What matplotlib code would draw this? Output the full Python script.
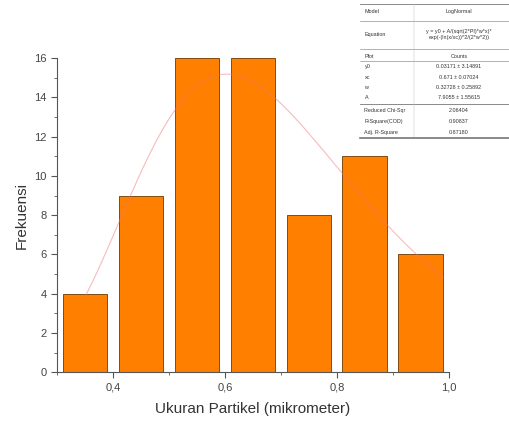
import matplotlib.pyplot as plt
import numpy as np
from matplotlib.ticker import MultipleLocator, FuncFormatter

plt.rcParams['font.family'] = ['Liberation Sans', 'DejaVu Sans']

# histogram of particle size
bin_centers = [0.35, 0.45, 0.55, 0.65, 0.75, 0.85, 0.95]
counts = [4, 9, 16, 16, 8, 11, 6]
bar_width = 0.08

# LogNormal fit parameters
y0 = 0.03171
xc = 0.671
w = 0.32728
A = 7.9055

table_rows = [
    ("Model", "LogNormal"),
    ("Equation", "y = y0 + A/(sqrt(2*PI)*w*x)*\nexp(-(ln(x/xc))^2/(2*w^2))"),
    ("Plot", "Counts"),
    ("y0", "0.03171 ± 3.14891"),
    ("xc", "0.671 ± 0.07024"),
    ("w", "0.32728 ± 0.25892"),
    ("A", "7.9055 ± 1.55615"),
    ("Reduced Chi-Sqr", "2.06404"),
    ("R-Square(COD)", "0.90837"),
    ("Adj. R-Square", "0.87180"),
]


def lognormal(x):
    return y0 + A / (np.sqrt(2 * np.pi) * w * x) * np.exp(-(np.log(x / xc)) ** 2 / (2 * w ** 2))


fig = plt.figure(figsize=(5.10, 4.21), dpi=100)
ax = fig.add_axes([0.112, 0.116, 0.768, 0.746])

ax.bar(bin_centers, counts, width=bar_width, color='#ff8000',
       edgecolor='#6b3a00', linewidth=0.6, clip_on=False, zorder=2)

xs = np.linspace(0.35, 0.99, 200)
ax.plot(xs, lognormal(xs), color='#f07878', linewidth=0.8, alpha=0.5, zorder=3)

ax.set_xlim(0.3, 1.0)
ax.set_ylim(0, 16)
ax.xaxis.set_major_locator(MultipleLocator(0.2))
ax.xaxis.set_minor_locator(MultipleLocator(0.1))
ax.yaxis.set_major_locator(MultipleLocator(2))
ax.yaxis.set_minor_locator(MultipleLocator(1))
ax.xaxis.set_major_formatter(FuncFormatter(lambda v, p: f"{v:.1f}".replace('.', ',')))

for side in ('top', 'right'):
    ax.spines[side].set_visible(False)
for side in ('left', 'bottom'):
    ax.spines[side].set_color('#555555')
    ax.spines[side].set_linewidth(0.8)
ax.tick_params(which='major', direction='out', length=4, width=0.8,
               color='#555555', labelsize=8, labelcolor='#444444')
ax.tick_params(which='minor', direction='out', length=2, width=0.6, color='#555555')

ax.set_xlabel("Ukuran Partikel (mikrometer)", fontsize=11, color='#333333', labelpad=7)
ax.set_ylabel("Frekuensi", fontsize=11, color='#333333', labelpad=4)

# fit results table
tax = fig.add_axes([360 / 510, 1 - 137 / 421, 150 / 510, 133 / 421])
tax.set_xlim(0, 1)
tax.set_ylim(0, 1)
tax.axis('off')

row_y = [0.94, 0.77, 0.605, 0.53, 0.445, 0.37, 0.295, 0.2, 0.115, 0.035]
split = 0.36
for (name, val), yy in zip(table_rows, row_y):
    tax.text(0.03, yy, name, fontsize=3.9, va='center', ha='left', color='#333333')
    tax.text(0.66, yy, val, fontsize=3.9, va='center', ha='center', color='#333333',
             linespacing=1.1)

for yy, lw in [(1.0, 0.6), (0.875, 0.4), (0.665, 0.4), (0.57, 0.4), (0.25, 0.6), (-0.01, 1.2)]:
    tax.plot([0, 1], [yy, yy], color='#777777', linewidth=lw, clip_on=False)
tax.plot([split, split], [-0.01, 1.0], color='#bbbbbb', linewidth=0.3)

fig.savefig("out.png", dpi=100)
